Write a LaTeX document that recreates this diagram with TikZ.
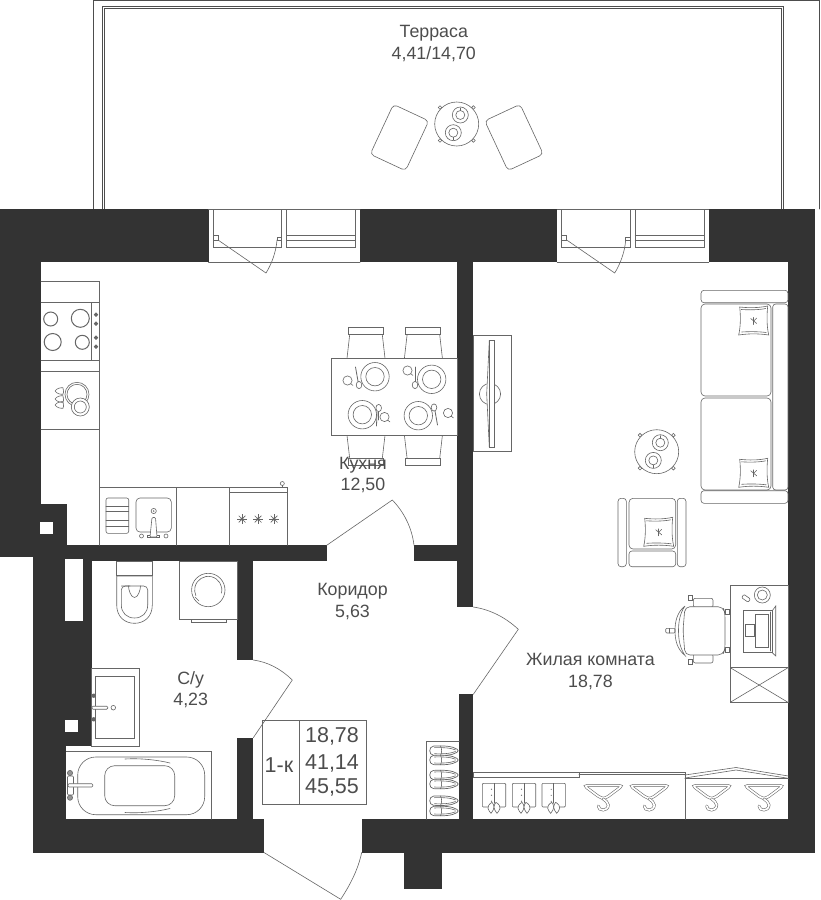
\documentclass[tikz,border=0pt]{standalone}
\usepackage{fontspec}
\setmainfont{Liberation Sans}
\definecolor{wallcol}{HTML}{333333}
\definecolor{linecol}{HTML}{666666}
\definecolor{textcol}{HTML}{4D4D4D}

\tikzset{
  wall/.style={fill=wallcol},
  thin line/.style={color=linecol, line width=0.6pt},
  roomlabel/.style={text=textcol, align=center, font=\fontsize{17.8}{21.3}\selectfont},
  infolabel/.style={text=textcol, font=\fontsize{21.5}{26}\selectfont},
  % Coffee table with two cups
  coffeetable/.pic={
    \foreach \px/\py in {-16.7/-16.5, 16.7/-16.5, -16.7/16.5, 16.7/16.5}
      \draw[fill=white] (\px,\py) circle(1.8);
    \draw[fill=white] (0,0) circle(22);
    \draw (3.6,-9) circle(8); \draw (3.6,-9) circle(4.5);
    \draw (-3.4,8.7) circle(8); \draw (-3.4,8.7) circle(4.5);
    \draw (3.6,-13.5) -- (3.6,-16);
    \draw (-3.4,13.2) -- (-3.4,16);
  },
  % Dinner plate
  plate/.pic={
    \draw (0,0) circle(14.2);
    \draw (0,0) circle(9.2);
  },
  % Cup with small handle
  cupmark/.pic={
    \draw[fill=white] (0,0) circle(4.6);
    \draw (3,3) -- (5.5,5);
  },
  spoon/.pic={
    \draw[fill=white] (0,0) ellipse(2.8 and 3.6);
  },
  % Wardrobe hanger
  hanger/.pic={
    \draw[line width=0.55pt, double=white, double distance=1.7pt, rounded corners=3.5pt]
      (-19.5,1) -- (19.5,1) -- (2,14) -- (-2,14) -- cycle;
    \draw[line width=0.55pt, double=white, double distance=1.7pt]
      (0,14.5) .. controls (2,16.5) and (5,17.5) .. (5,20.5) .. controls (5,24) and (2,25.5) .. (0,25.5)
      .. controls (-3,25.5) and (-5,24) .. (-5,21.5);
  },
  % Folded shirt
  shirt/.pic={
    \draw[rounded corners=1pt] (-11.7,0) rectangle (11.7,23.7);
    \draw (0,0) -- (0,20);
    \foreach \py in {6,12,18} \fill (-2.5,\py) circle(0.6);
    \draw[fill=white] (-2,19) .. controls (-5,21) and (-6.5,23) .. (-6,25) .. controls (-5.5,27) and (-4,29) .. (-3,30)
      .. controls (-1.5,28) and (0,26) .. (0,24) .. controls (0,22) and (-1,20) .. (-2,19);
    \draw[fill=white] (2,19) .. controls (5,21) and (6.5,23) .. (6,25) .. controls (5.5,27) and (4,29) .. (3,30)
      .. controls (1.5,28) and (0,26) .. (0,24) .. controls (0,22) and (1,20) .. (2,19);
  },
  % Single shoe
  shoe/.pic={
    \draw[fill=white, line width=0.7pt] (-10,-4.6) .. controls (0,-5.2) and (9,-4.6) .. (13.5,-1.6)
      .. controls (15,-0.6) and (15,0.6) .. (13.5,1.6)
      .. controls (9,4.6) and (0,5.2) .. (-10,4.6)
      .. controls (-15,4.2) and (-15,-4.2) .. (-10,-4.6);
    \draw (-9,-3) .. controls (-2,-3.4) and (7,-3) .. (12,-0.8);
    \draw (-9,3) .. controls (-2,3.4) and (7,3) .. (12,0.8);
    \draw (-3,-4.8) .. controls (-1.5,-2) and (-1.5,2) .. (-3,4.8);
  },
  % Cushion on the sofa and the armchair
  cushion/.pic={
    \draw[fill=white] (-14,-14) .. controls (-5,-13) and (5,-13) .. (14,-15)
      .. controls (13,-5) and (13,5) .. (15,14)
      .. controls (5,12.5) and (-5,12.5) .. (-15,14)
      .. controls (-13,5) and (-13,-5) .. (-14,-14) -- cycle;
    \draw (-12.5,-11.5) .. controls (-5,-11) and (5,-11) .. (12,-12.5);
    \draw (-12,11) .. controls (-5,10.5) and (5,10.5) .. (12.5,11.5);
    \draw (0,-3.5) -- (0,3.5);
    \draw (-3,-2.5) -- (0,0) -- (3,-3);
    \draw (0,0) -- (3,2.5);
  },
  % Hob on the cooker
  burnerstar/.pic={
    \foreach \ang in {0,45,...,315}
      \draw[line width=0.7pt] (0,0) -- (\ang:4.6);
    \fill (0,0) circle(1.6);
  },
  % Drop near the dish rack
  dropmark/.pic={
    \draw (-4,0) .. controls (-2,-3) and (2,-3.5) .. (4,-3.2)
      .. controls (4.8,0) and (4.8,2.4) .. (4,3.2) .. controls (2,3.5) and (-2,3) .. (-4,0);
  }
}

\begin{document}
\begin{tikzpicture}[x=1pt, y=-1pt, cap=round]
    \clip (0,0) rectangle (820,900);
    \fill[white] (0,0) rectangle (820,900);

    % Terrace outline
    \draw[line width=0.8pt, draw=textcol] (819,209) -- (819,0.5) -- (93.5,0.5) -- (93.5,209);
    \draw[line width=0.7pt, draw=textcol] (102.5,209) -- (102.5,6) -- (783.5,6) -- (783.5,209);
    \draw[line width=0.7pt, draw=textcol] (104.7,209) -- (104.7,8.3) -- (781.5,8.3) -- (781.5,209);

    % Walls
    \fill[wall] (0,209) rectangle (208.5,262);
    \fill[wall] (360,209) rectangle (557.3,262);
    \fill[wall] (708.7,209) rectangle (815,262);
    \fill[wall] (0,262) rectangle (41,504);
    \fill[wall] (0,504) rectangle (66.5,545.3);
    \fill[wall] (0,545.3) rectangle (326.7,557.3);
    \fill[wall] (33,557) rectangle (326.7,561.3);
    \fill[wall] (33,557) rectangle (91.7,746);
    \fill[wall] (33,746) rectangle (66.3,820);
    \fill[wall] (33,819.3) rectangle (264,852.5);
    \fill[wall] (237.3,561) rectangle (253.3,660);
    \fill[wall] (237.3,737.7) rectangle (253.3,820);
    \fill[wall] (414,545.3) rectangle (457.3,561.3);
    \fill[wall] (457.3,262) rectangle (473.3,607);
    \fill[wall] (459.3,694.3) rectangle (473.3,820);
    \fill[wall] (361.7,819.3) rectangle (815,852.5);
    \fill[wall] (788.3,262) rectangle (815,820);
    \fill[wall] (403.7,852) rectangle (442.3,888.7);

    % Ducts
    \fill[white] (39.5,521.7) rectangle (52.5,534.3);
    \fill[white] (64.7,559.3) rectangle (82.7,621.3);
    \fill[white] (64.7,720) rectangle (77.7,732.3);

    \begin{scope}[thin line]
    % Balcony windows and doors
    \foreach \ox in {0,348.7} {
      \draw (213+\ox,209) rectangle (281.5+\ox,247);
      \draw (286.5+\ox,209) rectangle (355.5+\ox,247);
      \draw (286.5+\ox,235.5) -- (355.5+\ox,235.5);
      \draw (286.5+\ox,240) -- (355.5+\ox,240);
      \draw (213+\ox,235.5) rectangle (218+\ox,240);
      \draw (277+\ox,237) rectangle (281.5+\ox,240);
      \draw (218+\ox,240) -- (266+\ox,273)
        .. controls (271+\ox,265) and (276+\ox,253) .. (277+\ox,240);
      \draw (208.5+\ox,262) -- (360+\ox,262);
      \draw (208.5+\ox,209) -- (360+\ox,209);
    }

    % Terrace furniture
    \draw[rounded corners=4pt, rotate around={25:(514,137.5)}] (494.5,110) rectangle (533.5,165);
    \draw[rounded corners=4pt, rotate around={-25:(399.4,137.5)}] (380,110) rectangle (419,165);
    \pic at (456.7,124) {coffeetable};

    % Kitchen counter
    \draw (41,281.3) -- (99.3,281.3) -- (99.3,487.3);
    \draw (41,302.3) -- (99.3,302.3);
    \draw (41,360) -- (99.3,360);
    \draw (41,371) -- (99.3,371);
    \draw (41,429.3) -- (99.3,429.3);
    \draw (91.7,302.3) -- (91.7,360);
    \draw[line width=1pt] (50.7,319) circle(7);
    \draw[line width=1pt] (80.3,318.3) circle(9);
    \draw[line width=1pt] (52.7,342) circle(8.5);
    \draw[line width=1pt] (82.3,342.3) circle(7);
    \foreach \ky in {314.7,323.7,337.7,346.7}
      \draw[fill=linecol] (96,\ky) circle(1.8);
    \draw (77,394.3) circle(12); \draw (77,394.3) circle(10);
    \draw[fill=white] (80.3,407) circle(9); \draw (80.3,407) circle(6);
    \foreach \dy in {391,399,405}
      \pic at (59,\dy) {dropmark};

    % Lower counter with sink and cooker
    \draw (99.3,545.3) -- (99.3,487.3) -- (287.3,487.3) -- (287.3,545.3);
    \draw (176.7,487.3) -- (176.7,545.3);
    \draw (229.3,487.3) -- (229.3,545.3);
    \draw (229.3,492.3) -- (287.3,492.3);
    \draw (282.3,487.3) -- (282.3,485.5);
    \draw (282.3,483.5) circle(2);
    \foreach \sx in {242,258,274}
      \pic at (\sx,519) {burnerstar};
    \draw[rounded corners=2pt] (106,498) rectangle (128.7,533.3);
    \foreach \ly in {506,511.7,520,526}
      \draw (106,\ly) -- (128.7,\ly);
    \draw[rounded corners=4pt] (136,498) rectangle (171.3,532);
    \draw (153.7,511) circle(2.6);
    \fill (153.7,511) circle(0.8);
    \draw (147.7,535) rectangle (159.7,537.5);
    \draw[fill=white, rounded corners=1pt] (152,517.5) -- (155.5,517.5) -- (157,537) -- (150,537) -- cycle;
    \draw (141.5,536) circle(2);
    \draw (166,536) circle(2);

    % Dining table
    \foreach \cx in {0,57.4} {
      \draw (347+\cx,358.3) -- (350+\cx,332) -- (382+\cx,332) -- (385+\cx,358.3);
      \draw (347+\cx,435.3) -- (350+\cx,461) -- (382+\cx,461) -- (385+\cx,435.3);
      \draw[fill=white] (348.3+\cx,327.3) rectangle (383.3+\cx,334);
      \draw[fill=white] (348.3+\cx,458.3) rectangle (383.3+\cx,465);
    }
    \draw[fill=white] (331.7,358.3) rectangle (457.3,435.3);
    \pic at (375,376.7) {plate};
    \pic at (431.7,379.3) {plate};
    \pic at (362.3,414.7) {plate};
    \pic at (418.3,415.7) {plate};
    \pic at (347.5,380.5) {cupmark};
    \pic at (407.5,370.5) {cupmark};
    \pic at (384.5,417) {cupmark};
    \pic at (448,413) {cupmark};
    \draw[line width=0.8pt] (355.5,367) -- (358.5,384);
    \pic at (359,385) {spoon};
    \draw[line width=0.8pt] (415,367) -- (415,385);
    \pic at (415,385) {spoon};
    \draw[line width=0.8pt] (377,412) -- (376.5,426);
    \draw (378.7,412) -- (378.7,420);
    \pic at (378.7,408) {spoon};
    \draw[line width=0.8pt] (434.5,408) -- (437.5,425);
    \pic at (434,407.5) {spoon};

    % TV
    \draw (473.3,335.3) rectangle (511.7,451.7);
    \draw (490,394) circle(10.6);
    \draw[fill=white] (489.3,340.3) -- (486.7,393.8) -- (489.3,447.3) -- cycle;
    \draw[fill=white] (489.3,340.3) rectangle (494.3,447.3);

    % Sofa
    \draw[rounded corners=3pt] (701,290.3) rectangle (788,302.7);
    \draw[rounded corners=3pt] (701,490.7) rectangle (788,503.3);
    \draw[rounded corners=4pt] (701,304) rectangle (771,396);
    \draw[rounded corners=4pt] (701,398) rectangle (771,490);
    \draw[rounded corners=3pt] (772.7,304) rectangle (788,490);
    \pic at (753.7,321) {cushion};
    \pic at (753.7,473.3) {cushion};
    \pic at (656.7,451.7) {coffeetable};

    % Armchair
    \draw[rounded corners=3pt] (618,498.3) rectangle (626.3,566.7);
    \draw[rounded corners=3pt] (677.3,498.3) rectangle (686,566.7);
    \draw[rounded corners=4pt] (629,498.3) rectangle (675.7,549);
    \draw[rounded corners=3pt] (629,551) rectangle (675.7,566.7);
    \pic at (658.7,532.3) {cushion};

    % Desk and office chair
    \draw (730.3,585.7) rectangle (788,667.7);
    \draw (730.3,667.7) rectangle (788,702.3);
    \draw (730.3,667.7) -- (788,702.3);
    \draw (730.3,702.3) -- (788,667.7);
    \draw (762.3,595) circle(8);
    \draw (762.3,595) circle(5);
    \draw[rounded corners=1pt, rotate around={-35:(746,598.3)}] (742,596.3) rectangle (750,600.3);
    \draw (743.3,610.7) rectangle (772.3,652.7);
    \draw (772.3,610.7) -- (775.7,606) -- (775.7,656) -- (772.3,652.7);
    \draw (755.3,614.3) rectangle (768.3,647);
    \draw (770,612) -- (770,651);
    \draw (745.7,624.3) rectangle (754,636.7);
    \draw (723,612) -- (730.3,612) (723,650) -- (730.3,650);
    \draw[rounded corners=2pt] (693.3,598.3) rectangle (713,607.3);
    \draw[rounded corners=2pt] (693.3,654) rectangle (713,663);
    \draw[fill=white, rounded corners=5pt] (685,606.7) -- (723,606.7) -- (725,613) -- (725,649) -- (723,655) -- (685,655) -- (683,630) -- cycle;
    \draw[fill=white] (685,606) .. controls (677,612) and (675,622) .. (675,630.5)
      .. controls (675,640) and (677,649) .. (685,655.5)
      .. controls (680,648) and (678.5,640) .. (678.5,630.5)
      .. controls (678.5,622) and (680,613) .. (685,606);
    \draw[rounded corners=1pt] (665.7,628.3) rectangle (675,633);
    \draw (669,628.3) -- (669,633);
    \foreach \qx/\qy in {690.7/598, 690.7/662, 727/612, 727/650}
      \draw[fill=white] (\qx-2,\qy-2.5) rectangle (\qx+2,\qy+2.5);

    % Wardrobes
    \draw (473.3,772.3) rectangle (579,777);
    \draw (579,772.3) -- (685,772.3) -- (685,819.3);
    \draw (579,774.3) -- (685,774.3);
    \draw (685,778.3) -- (788.3,778.3);
    \draw (685,775) -- (736,767.5) -- (788.3,776);
    \draw (685,778) -- (736,770) -- (788.3,778.3);
    \foreach \sx in {494,524,553.7}
      \pic at (\sx,783.3) {shirt};
    \foreach \hx in {603.3,649.3,711.7,764}
      \pic at (\hx,784.5) {hanger};

    % Shoe rack
    \draw (459.3,741) -- (426.3,741) -- (426.3,819.3);
    \foreach \ny in {750.7,760,775,784,800.7,811}
      \pic at (443.5,\ny) {shoe};

    % Toilet
    \draw (116.7,561) rectangle (152.3,575.7);
    \draw (116.7,576) -- (116.7,605) .. controls (116.7,617) and (125,623.3) .. (134.5,623.3)
      .. controls (144,623.3) and (152.3,617) .. (152.3,605) -- (152.3,576) -- cycle;
    \draw[rounded corners=4pt] (121.3,586) -- (147.7,586) -- (147.7,605);
    \draw (147.7,605) .. controls (147.7,613) and (142,618) .. (134.5,618)
      .. controls (127,618) and (121.3,613) .. (121.3,605);
    \draw[rounded corners=4pt] (121.3,605) -- (121.3,586) -- (130,586);
    \draw (128.5,586) .. controls (128.5,590) and (131,597.5) .. (134.5,597.5)
      .. controls (138,597.5) and (140.5,590) .. (140.5,586);

    % Washing machine
    \draw (179.3,561) rectangle (237.3,619.3);
    \draw (191.3,619.3) rectangle (226.7,622.3);
    \draw (208.3,590) circle(16.7);
    \draw (221.5,593) arc[start angle=13, end angle=-205, radius=13.6];
    \draw (195,597) -- (199,601);

    % Bathroom sink
    \draw (91.7,668.7) rectangle (139.7,746);
    \draw (95.7,676) rectangle (134.7,738.7);
    \draw[fill=white, rounded corners=1pt] (92,706.2) rectangle (107.7,709.2);
    \draw (113.3,707.7) circle(2.3);
    \fill (93.7,695.7) circle(2.2);
    \fill (93.7,719.3) circle(2.2);

    % Bath
    \draw (66.3,751.3) -- (211.7,751.3) -- (211.7,819.3);
    \draw[rounded corners=18pt] (77.7,757) rectangle (204.7,814.7);
    \draw[rounded corners=10pt] (104.7,765.7) rectangle (174.7,805.7);
    \draw (125,759) .. controls (140,758) and (158,760) .. (170,763);
    \draw (125,812.5) .. controls (140,813.5) and (158,811.5) .. (170,808.5);
    \draw[rounded corners=1pt] (67.5,776) rectangle (73.5,795);
    \draw[fill=linecol!70!white] (70,773) circle(2.6);
    \draw[fill=linecol!70!white] (70,797.7) circle(2.6);
    \draw[fill=white, rounded corners=1pt] (68,783.7) rectangle (92.7,787);

    % Info table
    \draw (262.7,720.7) rectangle (366.3,804.3);
    \draw (299.3,720.7) -- (299.3,804.3);

    % Door swings
    \draw (326.7,545.3) -- (392.3,500) .. controls (404,512) and (412,528) .. (414,545.3);
    \draw (473.3,607) .. controls (490,609.5) and (505,617) .. (518.3,629.3) -- (473.3,694.3);
    \draw (253.3,660) .. controls (268,662) and (281,669) .. (292.3,680) -- (253.3,737.7);
    \draw (264,852.5) -- (340.7,899.3) .. controls (350,885) and (358,870) .. (361.7,852.5);
    \end{scope}

    % Labels
    \node[roomlabel] (terrace) at (433.8,43.5) {Терраса\\4,41/14,70};
    \node[roomlabel] (kitchen) at (363,474.8) {Кухня\\12,50};
    \node[roomlabel] (corridor) at (352.5,601.5) {Коридор\\5,63};
    \node[roomlabel] (bathroom) at (190.7,689.8) {С/у\\4,23};
    \node[roomlabel] (livingroom) at (590.5,671.5) {Жилая комната\\18,78};
    \node[infolabel] (flattype) at (279,765.5) {1-к};
    \node[infolabel] (arealiving) at (332,736) {18,78};
    \node[infolabel] (areatotal) at (332,763) {41,14};
    \node[infolabel] (areafull) at (332,787.5) {45,55};
\end{tikzpicture}
\end{document}
